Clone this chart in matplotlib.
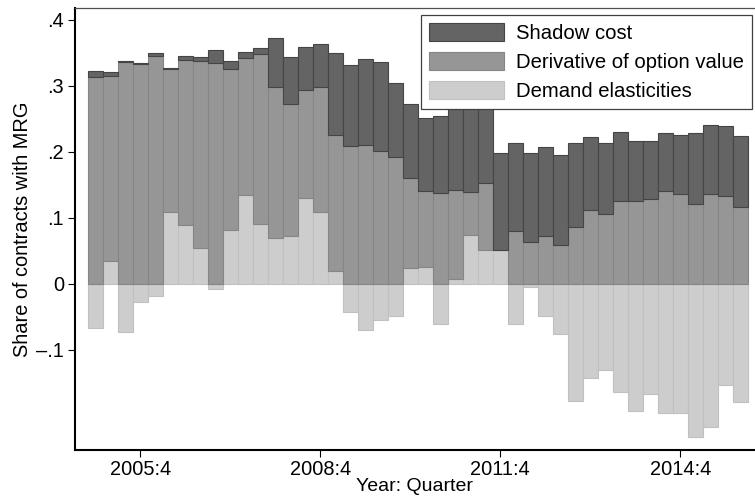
import matplotlib
matplotlib.use("Agg")
import matplotlib.pyplot as plt
import numpy as np

plt.rcParams["font.family"] = ["Liberation Sans", "DejaVu Sans"]

# Quarters 2005:1 ... 2015:4
quarters = [f"{y}:{q}" for y in range(2005, 2016) for q in range(1, 5)]
tick_labels = ["2005:4", "2008:4", "2011:4", "2014:4"]

demand = [-0.066, 0.035, -0.073, -0.027, -0.018, 0.109, 0.089, 0.055, -0.007, 0.081,
          0.135, 0.091, 0.070, 0.073, 0.130, 0.109, 0.020, -0.043, -0.069, -0.054,
          -0.048, 0.024, 0.026, -0.061, 0.007, 0.074, 0.052, 0.052, -0.061, -0.005,
          -0.048, -0.076, -0.178, -0.143, -0.131, -0.164, -0.192, -0.167, -0.196, -0.195,
          -0.232, -0.216, -0.153, -0.179]
derivative = [0.314, 0.280, 0.336, 0.333, 0.346, 0.217, 0.250, 0.282, 0.335, 0.244,
              0.207, 0.258, 0.228, 0.200, 0.164, 0.189, 0.205, 0.209, 0.210, 0.201,
              0.192, 0.136, 0.115, 0.138, 0.136, 0.066, 0.101, 0.000, 0.080, 0.063,
              0.072, 0.059, 0.087, 0.112, 0.106, 0.126, 0.125, 0.128, 0.141, 0.136,
              0.121, 0.136, 0.133, 0.117]
shadow = [0.008, 0.006, 0.002, 0.001, 0.004, 0.001, 0.006, 0.007, 0.019, 0.013,
          0.009, 0.009, 0.074, 0.071, 0.065, 0.065, 0.125, 0.123, 0.131, 0.135,
          0.113, 0.113, 0.110, 0.116, 0.135, 0.140, 0.130, 0.146, 0.134, 0.135,
          0.135, 0.136, 0.126, 0.111, 0.108, 0.104, 0.092, 0.088, 0.087, 0.090,
          0.107, 0.105, 0.107, 0.107]

series = [
    ("Demand elasticities", demand, "#cdcdcd", "#c0c0c0"),
    ("Derivative of option value", derivative, "#969696", "#858585"),
    ("Shadow cost", shadow, "#646464", "#454545"),
]

fig = plt.figure(figsize=(7.55, 4.99), dpi=100)
ax = fig.add_axes([75 / 755, 49 / 499, 680 / 755, 442 / 499])

x = np.arange(len(quarters))
pos_base = np.zeros(len(x))
neg_base = np.zeros(len(x))
handles = {}
for name, vals, fc, ec in series:
    v = np.array(vals, dtype=float)
    bottom = np.where(v >= 0, pos_base, neg_base)
    h = ax.bar(x, v, bottom=bottom, width=1.0, color=fc, edgecolor=ec,
               linewidth=0.8, label=name)
    handles[name] = h
    pos_base += np.clip(v, 0, None)
    neg_base += np.clip(v, None, 0)

ax.set_xlim(-1.353, 43.98)
ax.set_ylim(-0.2515, 0.418)

ax.set_yticks([-0.1, 0, 0.1, 0.2, 0.3, 0.4])
ax.set_yticklabels(["\u2013.1", "0", ".1", ".2", ".3", ".4"])
ax.set_xticks([quarters.index(t) for t in tick_labels])
ax.set_xticklabels(tick_labels)
ax.tick_params(axis="both", labelsize=14.4, length=5, width=0.8, color="black")
ax.tick_params(axis="y", pad=3)
ax.tick_params(axis="x", pad=2.5)

for side in ["left", "bottom"]:
    ax.spines[side].set_linewidth(1.5)
    ax.spines[side].set_color("black")
ax.spines["top"].set_linewidth(0.9)
ax.spines["top"].set_color("#505050")
ax.spines["right"].set_visible(False)

ax.set_ylabel("Share of contracts with MRG", fontsize=14.4)
ax.yaxis.set_label_coords(-0.063, 0.5)
ax.set_xlabel("Year: Quarter", fontsize=14.0, va="top")
ax.xaxis.set_label_coords(0.5, -0.064)

order = ["Shadow cost", "Derivative of option value", "Demand elasticities"]
leg = ax.legend([handles[n] for n in order], order, loc="upper right",
                bbox_to_anchor=(0.9956, 0.984), borderaxespad=0, fontsize=14.6,
                frameon=True, fancybox=False, framealpha=1, edgecolor="#404040",
                handlelength=3.7, handleheight=1.0, handletextpad=0.6,
                labelspacing=0.43, borderpad=0.4)
leg.get_frame().set_linewidth(0.9)

fig.savefig("out.png", dpi=100)
